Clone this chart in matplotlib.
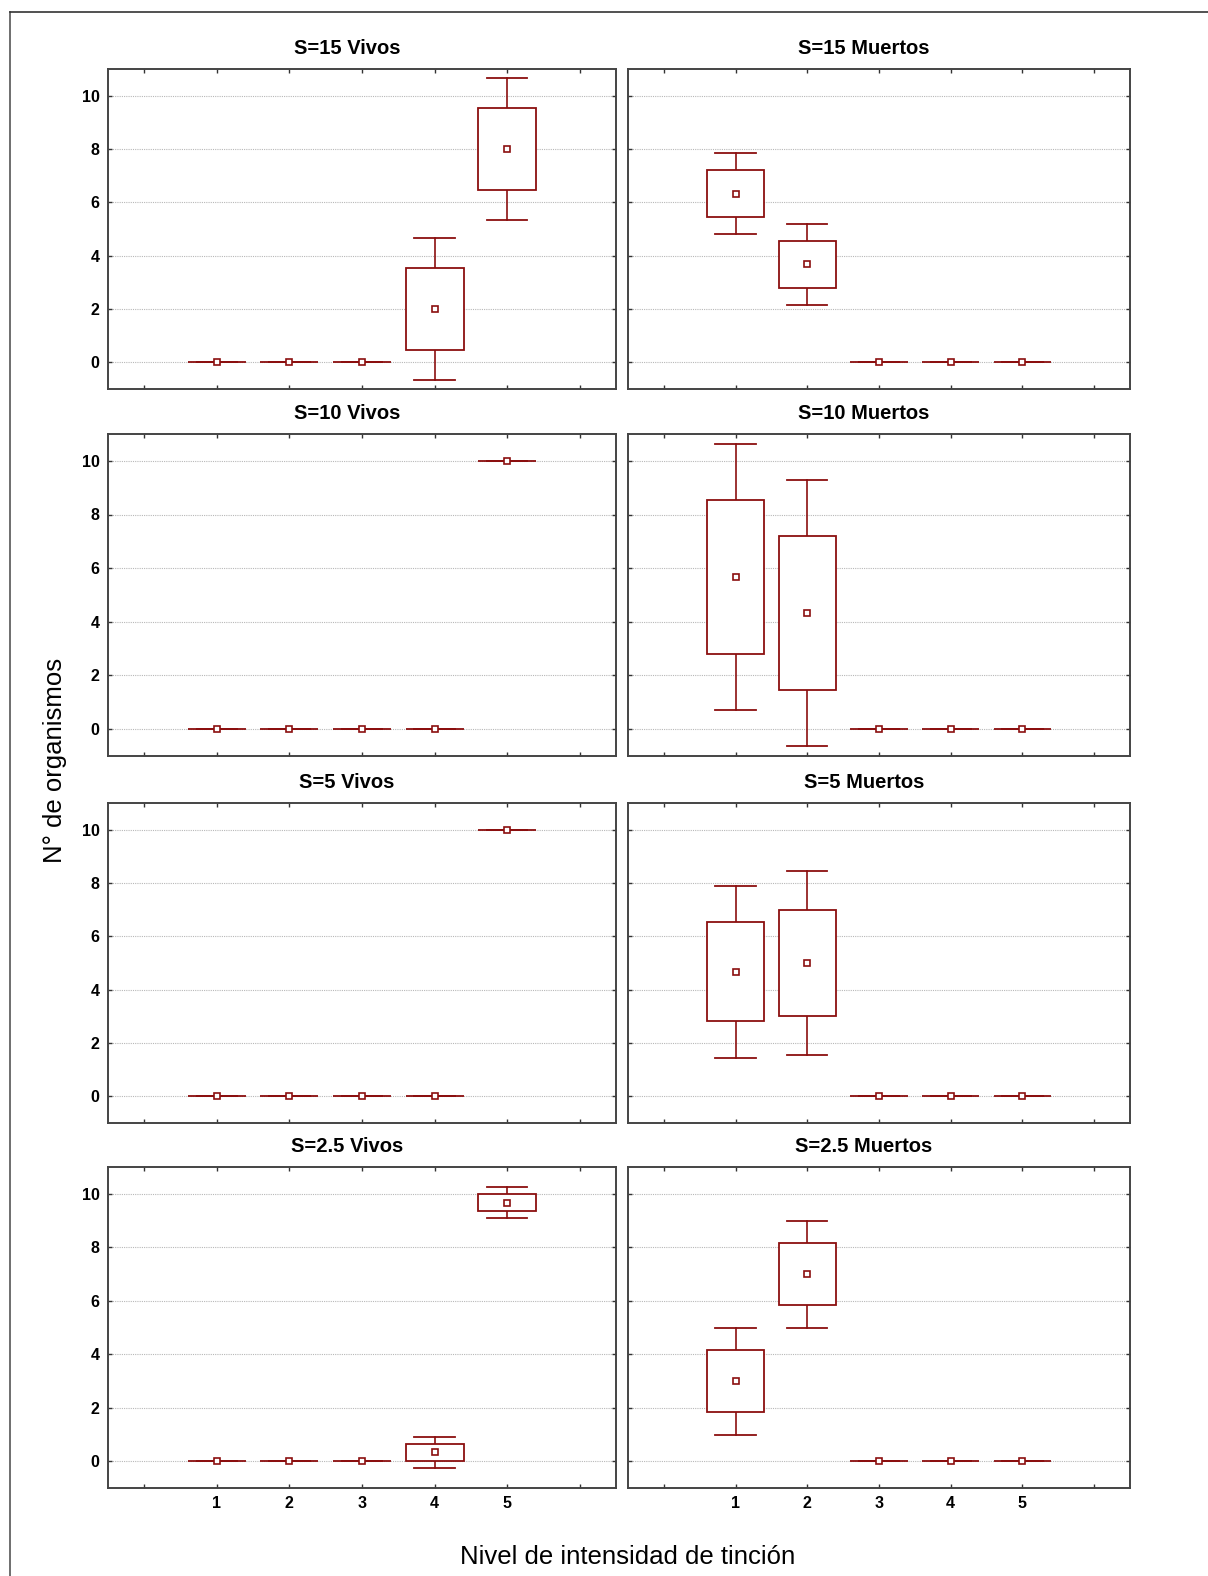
import numpy as np
import matplotlib
matplotlib.use("Agg")
import matplotlib.pyplot as plt
from matplotlib.patches import Rectangle
from matplotlib.lines import Line2D

plt.rcParams['font.family'] = ['Liberation Sans', 'DejaVu Sans']

# Nivel de intensidad de tincion (1..5)
levels = [1, 2, 3, 4, 5]

# media, error estandar (caja) y desviacion estandar (bigotes), n=3
titles = ["S=15 Vivos", "S=15 Muertos",
          "S=10 Vivos", "S=10 Muertos",
          "S=5 Vivos", "S=5 Muertos",
          "S=2.5 Vivos", "S=2.5 Muertos"]

mean_15v = [0, 0, 0, 2.0, 8.0]
se_15v = [0, 0, 0, 1.53, 1.53]
sd_15v = [0, 0, 0, 2.65, 2.65]

mean_15m = [6.33, 3.67, 0, 0, 0]
se_15m = [0.88, 0.88, 0, 0, 0]
sd_15m = [1.53, 1.53, 0, 0, 0]

mean_10v = [0, 0, 0, 0, 10.0]
se_10v = [0, 0, 0, 0, 0]
sd_10v = [0, 0, 0, 0, 0]

mean_10m = [5.67, 4.33, 0, 0, 0]
se_10m = [2.86, 2.86, 0, 0, 0]
sd_10m = [4.95, 4.95, 0, 0, 0]

mean_5v = [0, 0, 0, 0, 10.0]
se_5v = [0, 0, 0, 0, 0]
sd_5v = [0, 0, 0, 0, 0]

mean_5m = [4.67, 5.0, 0, 0, 0]
se_5m = [1.86, 2.0, 0, 0, 0]
sd_5m = [3.22, 3.46, 0, 0, 0]

mean_25v = [0, 0, 0, 0.33, 9.67]
se_25v = [0, 0, 0, 0.33, 0.33]
sd_25v = [0, 0, 0, 0.58, 0.58]

mean_25m = [3.0, 7.0, 0, 0, 0]
se_25m = [1.15, 1.15, 0, 0, 0]
sd_25m = [2.0, 2.0, 0, 0, 0]

panels = [(mean_15v, se_15v, sd_15v), (mean_15m, se_15m, sd_15m),
          (mean_10v, se_10v, sd_10v), (mean_10m, se_10m, sd_10m),
          (mean_5v, se_5v, sd_5v), (mean_5m, se_5m, sd_5m),
          (mean_25v, se_25v, sd_25v), (mean_25m, se_25m, sd_25m)]

red = '#8b0f0f'
W, H = 1208, 1576
fig = plt.figure(figsize=(W / 100, H / 100), dpi=100)

# panel frames in pixels (left, right) and (top, bottom)
cols = [(108, 616), (628, 1130)]
rows = [(69, 389), (434, 756), (803, 1123), (1167, 1488)]

box_w = 0.8
cap_w = 0.56

for i, (title, (m, se, sd)) in enumerate(zip(titles, panels)):
    r, c = divmod(i, 2)
    x0, x1 = cols[c]
    y0, y1 = rows[r]
    ax = fig.add_axes([x0 / W, 1 - y1 / H, (x1 - x0) / W, (y1 - y0) / H])
    ax.set_xlim(-0.5, 6.5)
    ax.set_ylim(-1, 11)

    for x, mu, s, d in zip(levels, m, se, sd):
        # whiskers: mean +- sd
        ax.plot([x, x], [mu + s, mu + d], color=red, lw=1.2, zorder=3)
        ax.plot([x, x], [mu - s, mu - d], color=red, lw=1.2, zorder=3)
        ax.plot([x - cap_w / 2, x + cap_w / 2], [mu + d] * 2, color=red, lw=1.3, zorder=3)
        ax.plot([x - cap_w / 2, x + cap_w / 2], [mu - d] * 2, color=red, lw=1.3, zorder=3)
        # box: mean +- se
        ax.add_patch(Rectangle((x - box_w / 2, mu - s), box_w, 2 * s,
                               facecolor='white', edgecolor=red, lw=1.3, zorder=4))
        ax.plot(x, mu, marker='s', ms=4.2, mfc='white', mec=red, mew=1.2, zorder=5)

    ax.set_xticks(range(0, 7))
    ax.set_yticks(range(0, 11, 2))
    ax.grid(axis='y', linestyle=(0, (1, 1)), color='#b8b8b8', lw=0.8)
    ax.set_axisbelow(True)
    ax.tick_params(direction='in', length=3, width=1, color='#333333',
                   top=True, right=True, labelsize=11.5, pad=6)
    if c == 1:
        ax.set_yticklabels([])
    else:
        ax.set_yticklabels([str(v) for v in range(0, 11, 2)], fontweight='bold')
    if r == 3:
        ax.set_xticklabels(['', '1', '2', '3', '4', '5', ''], fontweight='bold')
    else:
        ax.set_xticklabels([])
    for sp in ax.spines.values():
        sp.set_color('#444444')
        sp.set_linewidth(1.4)

    fig.text(((x0 + x1) / 2 - 15) / W, 1 - (y0 - 21) / H, title,
             ha='center', va='center', fontsize=14.5, fontweight='bold')

fig.text(55 / W, 1 - 760 / H, "N° de organismos", rotation=90,
         ha='center', va='center', fontsize=18.5)
fig.text(628 / W, 1 - 1557 / H, "Nivel de intensidad de tinción",
         ha='center', va='center', fontsize=18.5)

# outer frame (left and top edges)
fig.add_artist(Line2D([9.5 / W, 9.5 / W], [0, 1 - 11.5 / H], color='#555555', lw=1.2))
fig.add_artist(Line2D([9.5 / W, 1], [1 - 11.5 / H, 1 - 11.5 / H], color='#333333', lw=1.2))

fig.savefig('out.png', dpi=100)
